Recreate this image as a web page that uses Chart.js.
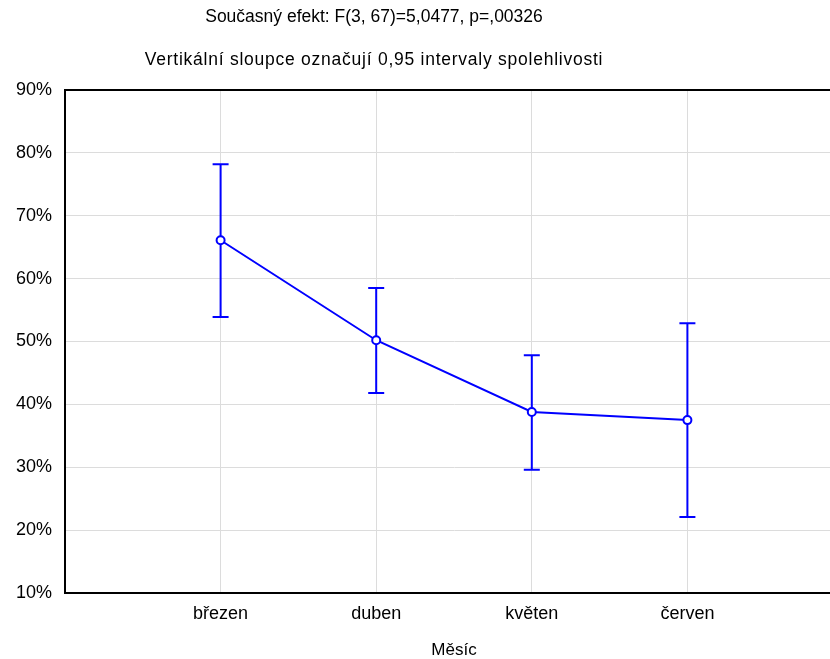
<!DOCTYPE html>
<html>
<head>
<meta charset="utf-8">
<script src="https://cdn.jsdelivr.net/npm/chart.js@4"></script>
<style>
  html, body { margin: 0; padding: 0; overflow: hidden; background: #fff; }
  #wrap { position: relative; width: 830px; height: 659px; overflow: hidden; }
  .title { position: absolute; left: 0; width: 748px; text-align: center;
           font-family: "Liberation Sans", Arial, sans-serif; font-size: 17.5px; line-height: 20px; color: #000; }
  #t1 { top: 6px; }
  #t2 { top: 49px; letter-spacing: 0.75px; }
  canvas { position: absolute; left: 0; top: 0; }
</style>
</head>
<body>
<div id="wrap">
  <canvas id="myChart" width="853" height="659"></canvas>
  <div class="title" id="t1">Současný efekt: F(3, 67)=5,0477, p=,00326</div>
  <div class="title" id="t2">Vertikální sloupce označují 0,95 intervaly spolehlivosti</div>
</div>
<script>
var months = ["březen", "duben", "květen", "červen"];
var means = [66.1, 50.2, 38.8, 37.5];
var lower = [53.9, 41.8, 29.6, 22.1];
var upper = [78.2, 58.5, 47.8, 52.9];

var blue = "#0000ff";
var font = { family: "'Liberation Sans', Arial, sans-serif", size: 18 };

// svisle usecky intervalu spolehlivosti s koncovymi carkami
var errorBars = {
  id: "errorBars",
  beforeDatasetsDraw: function (chart) {
    var ctx = chart.ctx;
    var xs = chart.scales.x, ys = chart.scales.y;
    ctx.save();
    ctx.strokeStyle = blue;
    ctx.lineWidth = 2;
    for (var i = 0; i < months.length; i++) {
      var x = xs.getPixelForValue(i + 1);
      var yLo = ys.getPixelForValue(lower[i]);
      var yHi = ys.getPixelForValue(upper[i]);
      ctx.beginPath();
      ctx.moveTo(x, yLo); ctx.lineTo(x, yHi);
      ctx.moveTo(x - 8, yLo); ctx.lineTo(x + 8, yLo);
      ctx.moveTo(x - 8, yHi); ctx.lineTo(x + 8, yHi);
      ctx.stroke();
    }
    ctx.restore();
  }
};

new Chart("myChart", {
  type: "line",
  data: {
    datasets: [{
      data: means.map(function (v, i) { return { x: i + 1, y: v }; }),
      borderColor: blue,
      borderWidth: 2,
      pointRadius: 4,
      pointBorderWidth: 2,
      pointBorderColor: blue,
      pointBackgroundColor: "#fff",
      tension: 0
    }]
  },
  options: {
    responsive: false,
    animation: false,
    events: [],
    layout: { padding: { top: 90, right: 3, left: 0, bottom: 0 } },
    plugins: { legend: { display: false }, tooltip: { enabled: false } },
    scales: {
      x: {
        type: "linear",
        min: 0,
        max: 5,
        afterFit: function (s) { s.height = 66; },
        ticks: {
          stepSize: 1,
          autoSkip: false,
          maxRotation: 0,
          padding: 10,
          color: "#000",
          font: font,
          callback: function (v) { return months[v - 1] || ""; }
        },
        grid: { color: "#dcdcdc", lineWidth: 1, drawTicks: false },
        border: { color: "#000", width: 2 },
        title: {
          display: true,
          text: "Měsíc",
          color: "#000",
          font: { family: font.family, size: 17, lineHeight: 1 },
          padding: 0
        }
      },
      y: {
        min: 10,
        max: 90,
        afterFit: function (s) { s.width = 65; },
        ticks: {
          stepSize: 10,
          padding: 13,
          color: "#000",
          font: font,
          callback: function (v) { return v + "%"; }
        },
        grid: {
          drawTicks: false,
          color: function (c) { return c.tick && c.tick.value === 90 ? "#000" : "#dcdcdc"; },
          lineWidth: function (c) { return c.tick && c.tick.value === 90 ? 2 : 1; }
        },
        border: { color: "#000", width: 2 }
      }
    }
  },
  plugins: [errorBars]
});
</script>
</body>
</html>
